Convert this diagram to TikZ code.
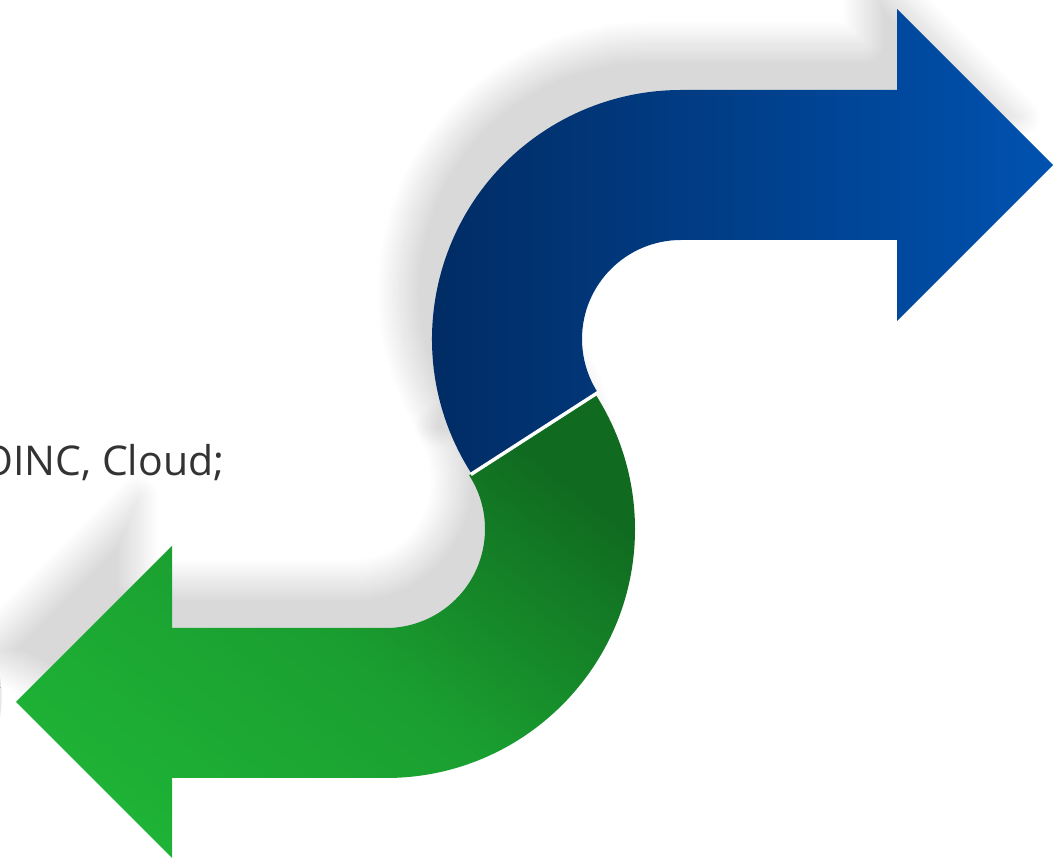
\documentclass[tikz,border=0pt]{standalone}
\usepackage{fontspec}
\setmainfont{Open Sans}
\usetikzlibrary{calc, shadows.blur}
\definecolor{bluedark}{HTML}{012A60}
\definecolor{bluelight}{HTML}{0052B0}
\definecolor{greendark}{HTML}{106A20}
\definecolor{greenlight}{HTML}{1EB236}
\definecolor{textgray}{HTML}{333333}

\begin{document}
\begin{tikzpicture}[x=1pt, y=1pt]
      \tikzstyle{backshadow}=[blur shadow={shadow xshift=-34pt, shadow yshift=48pt, shadow blur radius=22pt, shadow blur steps=20, shadow opacity=15}]
      \tikzstyle{bluearrow}=[left color=bluedark, right color=bluelight]
      \tikzstyle{greenarrow}=[top color=greendark, bottom color=greenlight, middle color=greenlight!72!greendark, shading angle=-38]
      \tikzstyle{gap}=[white, line width=3.5pt]
      \useasboundingbox (0,0) rectangle (1063,865);
      \clip (0,0) rectangle (1063,865);
      \coordinate (bluecenter) at (681,526);
      \coordinate (greencenter) at (386,336);
      \coordinate (jointout) at ($(bluecenter)+(212.8:250)$);
      \coordinate (jointin) at ($(bluecenter)+(212.8:98)$);
      \draw[gray!18, line width=1.5pt] (-117,168) circle[radius=118];
      \node[anchor=base west, inner sep=0pt, text=textgray, font=\fontsize{41}{49}\selectfont] (cloud) at (-19,389) {OINC, Cloud;};
      \path[backshadow] ($(bluecenter)+(212.8:249)$) arc[start angle=212.8, end angle=90, radius=249] -- (897,775) -- (897,856) -- (1053,700) -- (897,625) -- (681,625) arc[start angle=90, end angle=212.8, radius=99] -- cycle;
      \path[backshadow] ($(greencenter)+(32.8:99)$) arc[start angle=32.8, end angle=-90, radius=99] -- (172,237) -- (172,319) -- (16,163) -- (172,87) -- (386,87) arc[start angle=-90, end angle=32.8, radius=249] -- cycle;
      \path[bluearrow] ($(bluecenter)+(212.8:249)$) arc[start angle=212.8, end angle=90, radius=249] -- (897,775) -- (897,856) -- (1053,700) -- (897,544) -- (897,625) -- (681,625) arc[start angle=90, end angle=212.8, radius=99] -- cycle;
      \path[greenarrow] ($(greencenter)+(32.8:99)$) arc[start angle=32.8, end angle=-90, radius=99] -- (172,237) -- (172,319) -- (16,163) -- (172,7) -- (172,87) -- (386,87) arc[start angle=-90, end angle=32.8, radius=249] -- cycle;
      \draw[gap] (jointout) -- (jointin);
  \end{tikzpicture}
\end{document}
